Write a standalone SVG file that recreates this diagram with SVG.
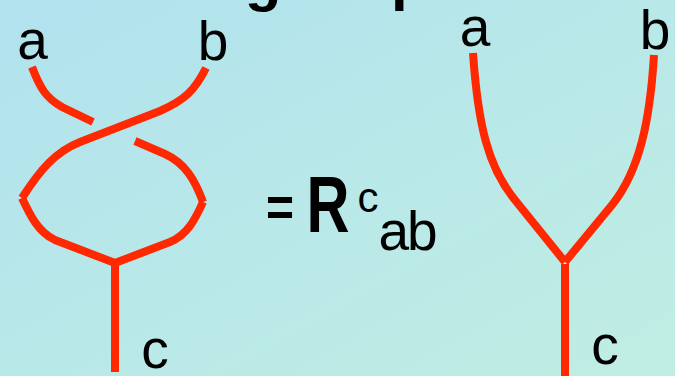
<svg xmlns="http://www.w3.org/2000/svg" width="675" height="376" viewBox="0 0 675 376">
  <defs>
    <linearGradient id="bg" x1="0" y1="0" x2="1" y2="1">
      <stop offset="0" stop-color="#b1e2ee"/>
      <stop offset="1" stop-color="#c0eee3"/>
    </linearGradient>
    <style>
      .strand { fill: none; stroke: #ff2800; stroke-width: 8; stroke-linecap: butt; stroke-linejoin: miter; }
      .lbl { font-family: "Comic Sans MS", "Liberation Sans", sans-serif; font-size: 55px; fill: #000; text-anchor: middle; }
      .title { font-family: "Comic Sans MS", "Liberation Sans", sans-serif; font-size: 60px; font-weight: bold; fill: #000; }
    </style>
  </defs>
  <rect x="0" y="0" width="675" height="376" fill="url(#bg)"/>

  <g id="title-fragment">
    <text class="title" x="263" y="0" text-anchor="middle">g</text>
    <text class="title" x="391" y="-1">p</text>
  </g>

  <g id="connectors">
    <g id="braid-left">
      <path class="strand" d="M32,67 C40,88 46,98 62,107 L93,122"/>
      <path class="strand" d="M206,68 C195,90 185,100 160,111 L80,142 C55,152 40,170 22,198"/>
      <path class="strand" d="M135,141 L165,154 C185,163 195,180 203,202"/>
      <path class="strand" d="M22,198 C30,215 38,232 55,240 L115,263"/>
      <path class="strand" d="M203,202 C195,220 187,235 170,242 L115,263"/>
      <path class="strand" d="M115,263 L115,372"/>
    </g>
    <g id="vertex-right">
      <path class="strand" d="M473,53 C478,125 488,167 515,200 L565,262"/>
      <path class="strand" d="M654,55 C650,120 640,170 612,205 L565,262"/>
      <path class="strand" d="M565,264 L565,376"/>
    </g>
  </g>

  <g id="labels-left">
    <text class="lbl" x="32.5" y="59">a</text>
    <text class="lbl" x="213" y="60">b</text>
    <text class="lbl" x="155" y="368">c</text>
  </g>

  <g id="formula">
    <text class="lbl" x="280" y="226" style="font-size:56px;font-weight:bold" textLength="28" lengthAdjust="spacingAndGlyphs">=</text>
    <text class="lbl" x="328" y="232" style="font-size:80px;font-weight:bold" textLength="43" lengthAdjust="spacingAndGlyphs">R</text>
    <text class="lbl" x="368" y="212" style="font-size:42px">c</text>
    <text class="lbl" x="407" y="250" style="letter-spacing:-2px">ab</text>
  </g>

  <g id="labels-right">
    <text class="lbl" x="475" y="46">a</text>
    <text class="lbl" x="655" y="49">b</text>
    <text class="lbl" x="605" y="364">c</text>
  </g>
</svg>
